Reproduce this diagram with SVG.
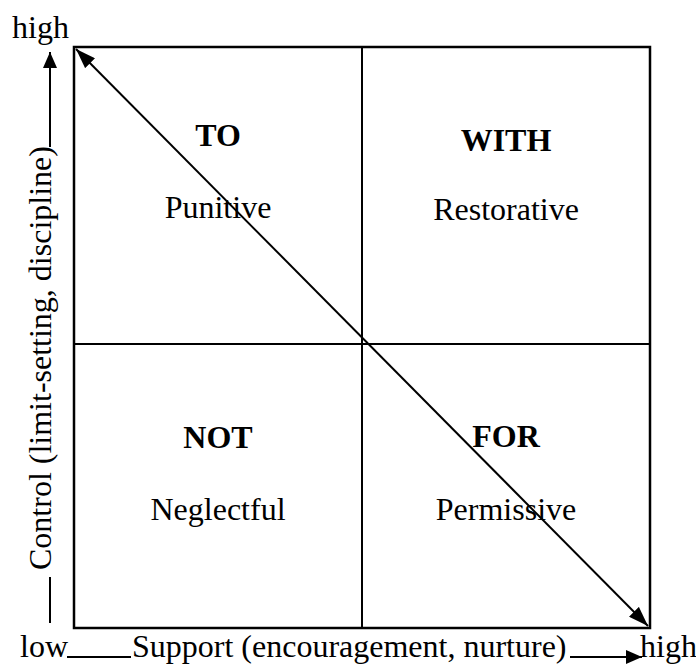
<svg xmlns="http://www.w3.org/2000/svg" width="696" height="664" viewBox="0 0 696 664">
  <style>
    text { font-family: "Liberation Serif", "Times New Roman", serif; font-size: 32px; fill: #000; }
    .b { font-weight: bold; }
    .c { text-anchor: middle; }
    .ln { stroke: #000; fill: none; }
  </style>
  <defs>
    <marker id="ah" viewBox="0 0 20 14" refX="20" refY="7" markerUnits="userSpaceOnUse" markerWidth="20" markerHeight="14" orient="auto-start-reverse">
      <path d="M0,0 L20,7 L0,14 z" fill="#000"/>
    </marker>
    <marker id="ah2" viewBox="0 0 16 14" refX="16" refY="7" markerUnits="userSpaceOnUse" markerWidth="16" markerHeight="14" orient="auto">
      <path d="M0,0 L16,7 L0,14 z" fill="#000"/>
    </marker>
  </defs>
  <rect width="696" height="664" fill="#fff"/>

  <g id="grid">
    <rect class="ln" x="74" y="47" width="576" height="581" stroke-width="2.5"/>
    <line class="ln" x1="362" y1="47" x2="362" y2="628" stroke-width="2"/>
    <line class="ln" x1="74" y1="344" x2="650" y2="344" stroke-width="2"/>
  </g>

  <g id="connectors">
    <line class="ln" x1="76" y1="49" x2="648" y2="626" stroke-width="2" marker-start="url(#ah)" marker-end="url(#ah)"/>
    <line class="ln" x1="50" y1="147" x2="50" y2="52" stroke-width="2" marker-end="url(#ah2)"/>
    <line class="ln" x1="50" y1="577" x2="50" y2="623" stroke-width="2"/>
    <line class="ln" x1="67" y1="657" x2="131" y2="657" stroke-width="2"/>
    <line class="ln" x1="570" y1="657" x2="642" y2="657" stroke-width="2" marker-end="url(#ah2)"/>
  </g>

  <g id="node-to">
    <text class="b c" x="218" y="146">TO</text>
    <text class="c" x="218" y="218">Punitive</text>
  </g>
  <g id="node-with">
    <text class="b c" x="506" y="151">WITH</text>
    <text class="c" x="506" y="220">Restorative</text>
  </g>
  <g id="node-not">
    <text class="b c" x="218" y="448">NOT</text>
    <text class="c" x="218" y="520">Neglectful</text>
  </g>
  <g id="node-for">
    <text class="b c" x="506" y="447">FOR</text>
    <text class="c" x="506" y="520">Permissive</text>
  </g>

  <g id="axis-labels">
    <text x="12" y="38">high</text>
    <text x="20" y="657">low</text>
    <text x="132" y="657">Support (encouragement, nurture)</text>
    <text x="640" y="657">high</text>
    <text transform="translate(51,570) rotate(-90)">Control (limit-setting, discipline)</text>
  </g>
</svg>
